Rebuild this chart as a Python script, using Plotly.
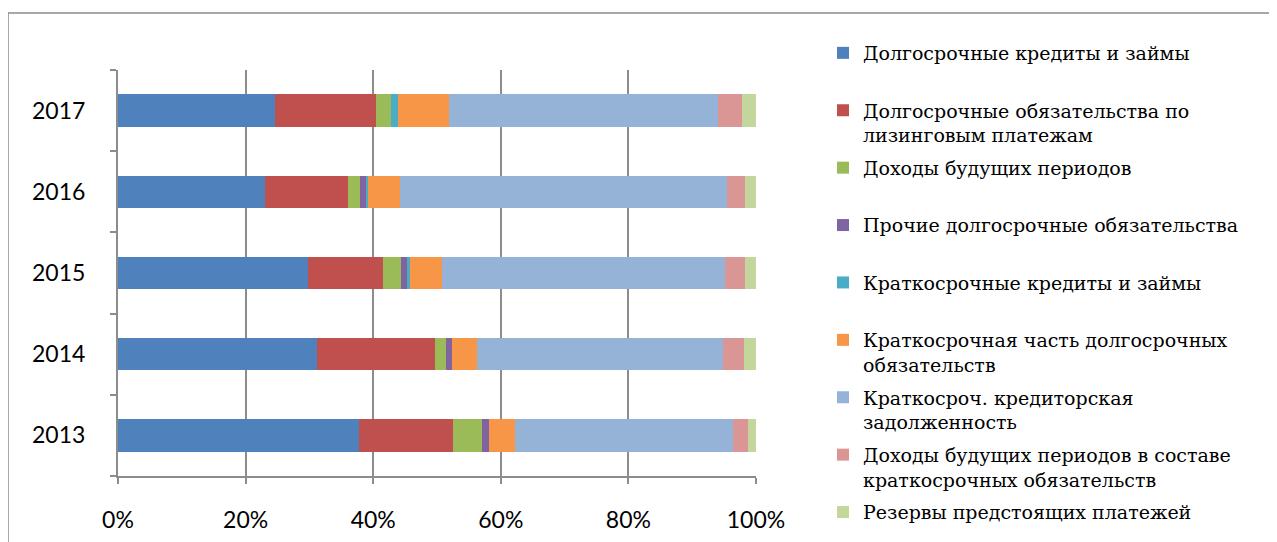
import plotly.graph_objects as go

years = ["2013", "2014", "2015", "2016", "2017"]

series_names = [
    "Долгосрочные кредиты и займы<br>\u00a0",
    "Долгосрочные обязательства по<br>лизинговым платежам",
    "Доходы будущих периодов<br>\u00a0",
    "Прочие долгосрочные обязательства<br>\u00a0",
    "Краткосрочные кредиты и займы<br>\u00a0",
    "Краткосрочная часть долгосрочных<br>обязательств",
    "Краткосроч. кредиторская<br>задолженность",
    "Доходы будущих периодов в составе<br>краткосрочных обязательств",
    "Резервы предстоящих платежей",
]

dolg_kredity = [37.7, 31.2, 29.8, 23.1, 24.5]
dolg_lizing = [14.8, 18.5, 11.8, 13.0, 15.9]
dohody_bud = [4.5, 1.7, 2.8, 1.8, 2.3]
prochie_dolg = [1.1, 1.0, 0.9, 1.0, 0.0]
kratk_kredity = [0.0, 0.0, 0.5, 0.3, 1.1]
kratk_chast = [4.0, 4.0, 5.1, 5.0, 8.0]
kratk_kreditor = [34.2, 38.5, 44.4, 51.3, 42.0]
dohody_kratk = [2.3, 3.3, 3.0, 2.7, 3.8]
rezervy = [1.3, 1.9, 1.8, 1.8, 2.2]

series_values = [dolg_kredity, dolg_lizing, dohody_bud, prochie_dolg, kratk_kredity,
                 kratk_chast, kratk_kreditor, dohody_kratk, rezervy]

colors = ["#4F81BD", "#C0504D", "#9BBB59", "#8064A2", "#4BACC6",
          "#F79646", "#95B3D7", "#D99694", "#C3D69B"]

x_ticks = [0, 20, 40, 60, 80, 100]
x_tick_labels = ["0%", "20%", "40%", "60%", "80%", "100%"]

# page body has an 8px margin; size the figure to the visible area
OFF = 8
W, H = 1277 - OFF, 542 - OFF


def px(x):
    return (x - OFF) / W


def py(y):
    return 1 - (y - OFF) / H


fig = go.Figure()
for i, (name, vals, col) in enumerate(zip(series_names, series_values, colors)):
    fig.add_trace(go.Bar(
        y=years, x=vals, name=name, orientation="h",
        marker=dict(color=col, line=dict(width=0)),
        legendgroup=f"g{i}",
    ))

grid_col = "#8C8C8C"
fig.update_layout(
    width=W, height=H,
    margin=dict(l=0, r=0, t=0, b=0),
    barmode="stack", barnorm="percent", bargap=0.6,
    paper_bgcolor="white", plot_bgcolor="white",
    font=dict(family="Lato, Open Sans, sans-serif", size=23, color="#000000"),
    xaxis=dict(
        domain=[px(118), px(756)], range=[0, 100], automargin=False,
        tickvals=x_ticks, ticktext=x_tick_labels,
        showgrid=True, gridcolor=grid_col, gridwidth=2,
        zeroline=False, showline=True, linecolor=grid_col, linewidth=2,
        ticks="outside", ticklen=6, tickcolor=grid_col, tickwidth=2,
        ticklabelstandoff=16,
    ),
    yaxis=dict(
        domain=[py(476), py(70)], automargin=False,
        type="category", categoryorder="array", categoryarray=years,
        showgrid=False, zeroline=False,
        showline=True, linecolor=grid_col, linewidth=2,
        ticks="outside", ticklen=6, tickcolor=grid_col, tickwidth=2,
        tickson="boundaries", ticklabelstandoff=26,
    ),
    legend=dict(
        x=px(823), y=py(34), xanchor="left", yanchor="top",
        traceorder="grouped", tracegroupgap=5, valign="top",
        font=dict(family="DejaVu Serif, Liberation Serif, serif", size=19, color="#000000"),
        bgcolor="rgba(0,0,0,0)",
    ),
    shapes=[dict(type="rect", xref="paper", yref="paper",
                 x0=0.0, x1=1.05, y0=-0.05, y1=py(13),
                 line=dict(color="#8C8C8C", width=1.5), layer="below")],
)

fig.write_html("out.html")
